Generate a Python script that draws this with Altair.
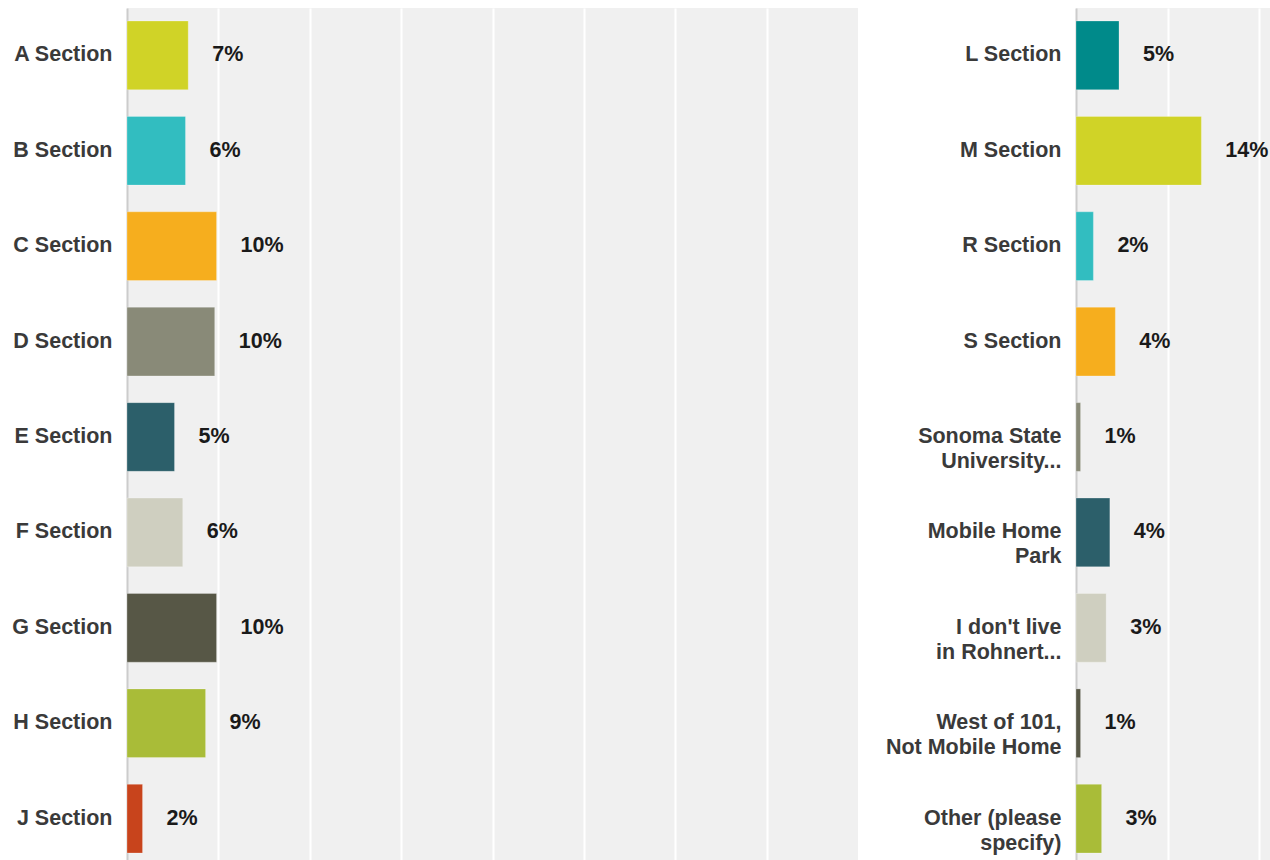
import altair as alt
import pandas as pd

FONT = "Liberation Sans"

left_cats = ["A Section", "B Section", "C Section", "D Section", "E Section",
             "F Section", "G Section", "H Section", "J Section"]
left_vals = [6.7, 6.4, 9.8, 9.6, 5.2, 6.1, 9.8, 8.6, 1.7]
left_labels = ["7%", "6%", "10%", "10%", "5%", "6%", "10%", "9%", "2%"]
left_colors = ["#d0d327", "#32bdc0", "#f6ae1e", "#898a78", "#2c5f6a",
               "#cfcfc0", "#575746", "#a9bc38", "#c8441c"]

right_cats = ["L Section", "M Section", "R Section", "S Section",
              "Sonoma State|University...", "Mobile Home|Park",
              "I don't live|in Rohnert...", "West of 101,|Not Mobile Home",
              "Other (please|specify)"]
right_vals = [4.7, 13.7, 1.9, 4.3, 0.5, 3.7, 3.3, 0.5, 2.8]
right_labels = ["5%", "14%", "2%", "4%", "1%", "4%", "3%", "1%", "3%"]
right_colors = ["#008a8a", "#d0d327", "#32bdc0", "#f6ae1e", "#898a78",
                "#2c5f6a", "#cfcfc0", "#575746", "#a9bc38"]


def panel(cats, vals, labels, colors, xmax, width, extent, grid_vals):
    df = pd.DataFrame({"cat": cats, "val": vals, "lab": labels, "col": colors})
    yscale = alt.Scale(paddingInner=0.28, paddingOuter=0.136)
    y = alt.Y("cat:N", sort=cats, title=None, scale=yscale,
              axis=alt.Axis(labelFont=FONT, labelFontSize=21.5, labelFontWeight="bold",
                            labelColor="#3a3a3a", labelPadding=15, ticks=False,
                            domain=True, domainColor="#cccccc", domainWidth=2,
                            grid=False, minExtent=extent, maxExtent=extent,
                            labelLimit=400, labelLineHeight=25,
                            labelExpr="split(datum.label, '|')"))
    x = alt.X("val:Q", title=None,
              scale=alt.Scale(domain=[0, xmax], nice=False, zero=True),
              axis=alt.Axis(values=grid_vals, labels=False, ticks=False, domain=False,
                            grid=True, gridColor="#ffffff", gridWidth=2,
                            minExtent=0, maxExtent=0))
    bars = alt.Chart(df).mark_bar(stroke="#ffffff", strokeOpacity=0.25, strokeWidth=1).encode(
        x=x, y=y, color=alt.Color("col:N", scale=None, legend=None))
    text = alt.Chart(df).mark_text(align="left", baseline="middle", dx=24, font=FONT,
                                   fontSize=21.5, fontWeight="bold", color="#1a1a1a").encode(
        x=alt.X("val:Q"), y=alt.Y("cat:N", sort=cats), text="lab:N")
    return (bars + text).properties(width=width, height=858)


left = panel(left_cats, left_vals, left_labels, left_colors, 80, 731, 127,
             [10, 20, 30, 40, 50, 60, 70])
right = panel(right_cats, right_vals, right_labels, right_colors, 21.2, 194, 218,
              [10, 20])

chart = alt.hconcat(left, right, spacing=0).properties(
    padding={"left": 0, "top": 8, "right": 0, "bottom": 0},
    background="#ffffff",
).configure_view(stroke=None, fill="#f0f0f0")

chart.save("out.html", embed_options={"renderer": "svg", "actions": False})
